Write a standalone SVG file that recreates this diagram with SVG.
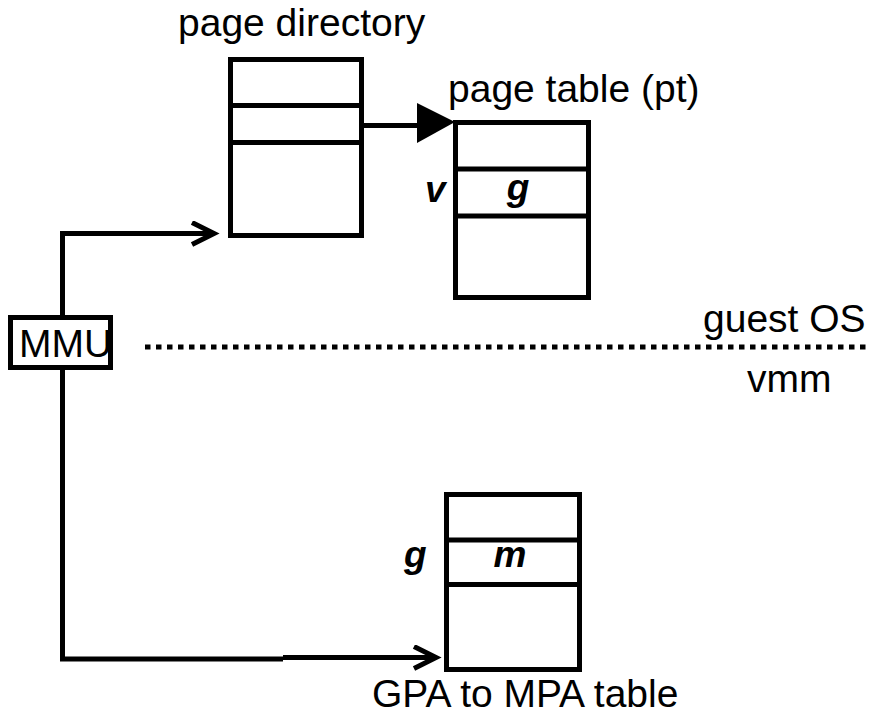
<svg xmlns="http://www.w3.org/2000/svg" width="872" height="721" viewBox="0 0 872 721">
<defs>
<style>
.box{fill:#fff;stroke:#000;stroke-width:5}
.ln{fill:none;stroke:#000;stroke-width:5}
.t{font-family:"Liberation Sans",Arial,sans-serif;font-size:39px;fill:#000}
.bi{font-family:"Liberation Sans",Arial,sans-serif;font-size:37px;font-weight:bold;font-style:italic;fill:#000}
</style>
<marker id="open" markerWidth="30" markerHeight="30" refX="24" refY="13" orient="auto" markerUnits="userSpaceOnUse">
<path d="M2,2 L24,13 L2,24" fill="none" stroke="#000" stroke-width="5"/>
</marker>
</defs>
<rect width="872" height="721" fill="#fff"/>

<g id="connectors">
<line class="ln" x1="364" y1="125.5" x2="420" y2="125.5"/>
<polygon points="417,103 417,143 455,122" fill="#000"/>
<path class="ln" d="M62.5,316 V233.5 H214" marker-end="url(#open)"/>
<path class="ln" d="M62.5,369 V659 H283 M283,657.5 H436" marker-end="url(#open)"/>
<line x1="145" y1="347" x2="868" y2="347" stroke="#000" stroke-width="5" stroke-dasharray="5.5 5.5"/>
</g>

<g id="page-directory">
<rect class="box" x="230.5" y="59.5" width="131" height="176"/>
<line class="ln" x1="230" y1="105.5" x2="364" y2="105.5"/>
<line class="ln" x1="230" y1="142.5" x2="364" y2="142.5"/>
<text class="t" x="178" y="36">page directory</text>
</g>

<g id="page-table">
<rect class="box" x="455.5" y="122.5" width="133" height="175"/>
<line class="ln" x1="455" y1="169" x2="589" y2="169"/>
<line class="ln" x1="455" y1="216" x2="589" y2="216"/>
<text class="t" x="448" y="102">page table (pt)</text>
<text class="bi" x="425" y="202">v</text>
<text class="bi" x="518" y="200" text-anchor="middle">g</text>
</g>

<g id="mmu">
<rect class="box" x="10.5" y="317.5" width="100" height="50"/>
<text class="t" x="19" y="357">MMU</text>
</g>

<g id="labels">
<text class="t" x="703" y="332">guest OS</text>
<text class="t" x="747" y="392">vmm</text>
</g>

<g id="gpa-table">
<rect class="box" x="446.5" y="494.5" width="133" height="175"/>
<line class="ln" x1="446" y1="540" x2="580" y2="540"/>
<line class="ln" x1="446" y1="584.5" x2="580" y2="584.5"/>
<text class="bi" x="404" y="567">g</text>
<text class="bi" x="510" y="567" text-anchor="middle">m</text>
<text class="t" x="372" y="707">GPA to MPA table</text>
</g>
</svg>
